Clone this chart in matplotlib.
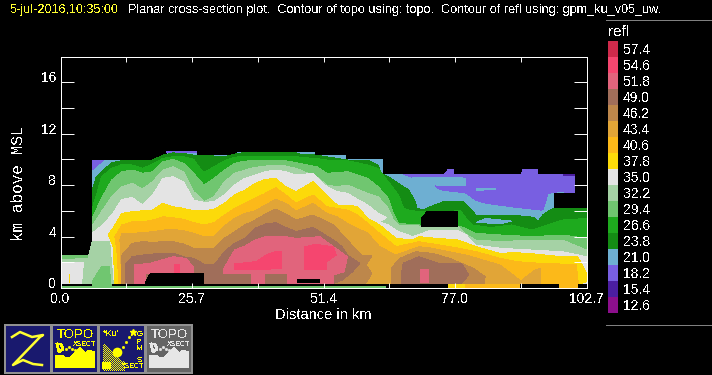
import numpy as np
import matplotlib
matplotlib.use("Agg")
import matplotlib.pyplot as plt
from matplotlib.colors import ListedColormap

plt.rcParams['text.antialiased'] = False
plt.rcParams['lines.antialiased'] = False
plt.rcParams['font.family'] = ['Liberation Sans', 'DejaVu Sans']

# escala de color
refl_levels = [57.4, 54.6, 51.8, 49.0, 46.2, 43.4, 40.6, 37.8, 35.0, 32.2,
               29.4, 26.6, 23.8, 21.0, 18.2, 15.4, 12.6]
refl_colors = ['#cf2a4b', '#f5466f', '#e1647c', '#a06e5a', '#bd874b', '#e1a537',
               '#fcb919', '#fcda0a', '#e4e4e4', '#a5d2a5', '#70c670', '#1eaa1e',
               '#148c14', '#6eafd2', '#785fe1', '#4b1ea0', '#8c0f8c']
c = dict(zip(refl_levels, refl_colors))

xtick_vals = [0, 12.85, 25.7, 38.55, 51.4, 64.2, 77.0, 89.85, 102.7]
xtick_labels = ['0.0', '', '25.7', '', '51.4', '', '77.0', '', '102.7']
ytick_vals = [0, 2, 4, 6, 8, 10, 12, 14, 16]
ytick_labels = ['0', '', '4', '', '8', '', '12', '', '16']

# contornos: distancia (km), altura (km)
x_210 = [6.2, 6.2, 20.7, 20.7, 26.7, 26.7, 34.5, 34.5, 49.6, 49.6, 55.8, 55.8, 63, 63,
         100.4, 100.4, 96.3, 96.3, 102.7, 102.7]
h_210 = [.36, 9.95, 9.95, 10.65, 10.65, 10.35, 10.35, 10.6, 10.6, 10.35, 10.35, 10, 10, 8.86,
         8.86, 7.4, 7.4, 6.2, 6.2, .36]

x_182 = [66.9, 75, 75.7, 76.7, 76.7, 90, 90.3, 93.2, 93.2, 100.4, 100.4, 97.3, 95.2, 94.2,
         93.9, 88.4, 83.2, 81.2, 79.1, 74.7, 73.4, 72.7, 68.8]
h_182 = [8.86, 8.86, 9.2, 9.2, 8.86, 8.86, 9.2, 9.2, 8.86, 8.86, 7.4, 7.5, 7.35, 6.1,
         6.06, 6.3, 6.58, 6.8, 7.4, 7.6, 7.8, 8.4, 8.6]
x_182b = [6.2, 8.4, 6.2]
h_182b = [9.95, 9.95, 9.2]
x_182c = [20.6, 26.7, 26.7, 20.6]
h_182c = [10.65, 10.65, 10.5, 10.5]
x_154 = [98.1, 100.4, 100.4, 98.1]
h_154 = [8.86, 8.86, 8.73, 8.73]

x_210b = [68.8, 79.1, 79.1, 73.5]
h_210b = [8.6, 8.55, 8.0, 8.0]
x_210c = [81.2, 85, 85, 81.2]
h_210c = [7.6, 7.65, 7.75, 7.7]

x_238 = [6.2, 7, 8, 10, 12, 16, 18, 20, 22, 24, 26, 28, 30, 32, 34, 36, 46, 46.7, 50, 54, 56, 60,
         62, 62.6, 64, 66, 68, 69.3, 69.6, 70.8, 71.4, 74.7, 78.6, 80.6, 81.2, 85.8, 89.7, 92.3,
         93.3, 94.2, 96.2, 102.7, 102.7, 6.2]
h_238 = [7.6, 8.65, 9.04, 9.74, 9.89, 9.89, 9.95, 10.33, 10.5, 10.46, 10.33, 10.33, 10.26, 10.2,
         10.41, 10.54, 10.5, 10.41, 10.33, 10.07, 9.95, 9.95, 9.56, 8.91, 8.65, 8.13, 7.61, 6.7,
         6.2, 6.06, 6.19, 6.7, 6.7, 5.93, 5.6, 5.6, 5.6, 5.5, 5.2, 5.7, 6.2, 6.2, .36, .36]
x_210d = [81.2, 83, 88, 86]
h_210d = [5.1, 5.4, 5.2, 5.0]

x_266 = [6.2, 7, 8, 10, 12, 14, 16, 18, 20, 22, 24, 26, 27, 28, 30, 32, 34, 36, 46, 46.7, 50, 52,
         56, 60, 62, 64, 66, 67, 68, 70, 76, 78, 79.2, 80.5, 84, 88, 92, 98, 102.7, 102.7, 6.2]
h_266 = [6.19, 7.2, 8.65, 9.3, 9.6, 9.56, 9.3, 9.63, 10.08, 10.2, 10.2, 10.0, 9.43, 8.99, 9.43,
         9.89, 10.15, 10.26, 10.26, 10.15, 10.07, 9.95, 9.9, 9.56, 9.3, 8.26, 7.23, 6.19, 6.06,
         5.93, 5.93, 6.06, 5.41, 4.9, 4.69, 4.9, 4.5, 5.28, 5.41, .36, .36]

x_294 = [6.2, 8, 10, 12, 14, 16, 18, 20, 22, 24, 26, 28, 30, 32, 34, 36, 38, 40, 44, 46, 50, 52,
         56, 60, 62, 64, 65, 66, 70, 77.6, 79, 81, 86, 92, 98, 102.7, 102.7, 6.2]
h_294 = [5.41, 6.97, 8.39, 9.04, 9.17, 8.91, 9.04, 9.82, 10.0, 9.69, 8.91, 8.0, 8.52, 9.17, 9.69,
         9.87, 9.89, 9.95, 9.89, 9.74, 9.43, 8.91, 9.04, 8.52, 7.87, 6.97, 5.8, 5.02, 4.9, 4.82,
         4.64, 4.25, 4.12, 3.99, 4.12, 3.86, .36, .36]

x_322 = [6.2, 8, 10, 12, 14, 16, 18, 20, 22, 24, 26, 28, 30, 32, 34, 36, 38, 40, 42, 44, 46, 50,
         52, 54, 56, 60, 62, 64, 65, 66, 70, 77.6, 79.2, 81, 86, 92, 98, 102.7, 102.7, 6.2]
h_322 = [4.82, 5.93, 7.1, 7.87, 8.13, 7.69, 8.26, 9.17, 9.43, 9.04, 7.49, 6.71, 7.1, 8.26, 8.91,
         9.17, 9.38, 9.48, 9.56, 9.48, 9.3, 8.65, 8.0, 7.87, 8.0, 7.36, 7.1, 6.19, 5.28, 4.9,
         4.82, 4.82, 4.17, 3.73, 3.6, 3.73, 3.73, 2.95, .36, .36]

x_350 = [6.2, 8, 10, 12, 14, 16, 18, 20, 22, 24, 26, 28, 30, 32, 34, 36, 38, 40, 42, 44, 46, 49.3,
         52, 54, 56, 58, 60, 62, 63.7, 62.3, 64, 66, 68.8, 72, 77.6, 79.2, 81, 86, 92, 98, 102.7,
         102.7, 6.2]
h_350 = [4.25, 4.82, 5.67, 6.89, 7.04, 6.45, 7.23, 8.52, 8.65, 8.26, 6.84, 6.66, 6.71, 7.23, 8.0,
         8.52, 8.78, 9.04, 9.17, 9.04, 8.78, 8.91, 7.87, 7.49, 7.36, 6.89, 6.45, 5.8, 5.49, 5.15,
         4.9, 4.38, 3.99, 4.45, 4.45, 4.12, 3.34, 3.08, 2.95, 2.82, 2.43, .36, .36]

# eco bajo a la izquierda
x_294b = [0, 0, 5.4, 6.2, 6.2]
h_294b = [.36, 2.56, 2.56, 2.8, .36]
x_322b = [0, 0, 5.4, 6.2, 9.6, 10.3]
h_322b = [.36, 2.2, 2.3, 3.6, 3.6, .36]
x_350b = [0, 0, 4.5, 4.1]
h_350b = [.36, 2.0, 2.0, .36]
x_294c = [6.2, 6.2, 8, 9.5, 9.9]
h_294c = [.1, .5, 1.66, 1.66, .1]
x_378b = [1.7, 1.95, 1.95, 1.7]
h_378b = [.36, .36, 1.1, 1.1]

x_378 = [9.3, 10, 12, 14, 16, 18, 20, 22, 24, 26, 28, 30, 32, 34, 36, 38, 40, 42, 44, 46, 49.3,
         52, 54, 56, 58, 60, 62.3, 65.5, 68.8, 70, 72, 77.6, 81.2, 85.8, 88.8, 92.7, 97.8, 101,
         102.7, 102.7, 101.6, 10.6, 10.3]
h_378 = [4.17, 4.5, 5.8, 5.93, 6.0, 6.06, 6.58, 6.32, 6.19, 6.0, 6.0, 6.11, 6.58, 7.23, 7.61,
         8.13, 8.44, 8.52, 7.87, 7.49, 8.26, 7.23, 6.45, 6.45, 6.32, 5.41, 4.9, 3.86, 3.73, 3.99,
         3.91, 3.73, 3.21, 2.69, 2.75, 2.64, 2.43, 2.43, 1.14, .5, .36, .36, 3.2]
x_378c = [75.7, 79, 79, 75.7]
h_378c = [0, 0, .4, .4]

x_406 = [10.6, 12, 14, 16, 18, 20, 22, 24, 26, 28, 30, 32, 34, 36, 38, 40, 42, 44, 46, 49.3, 52,
         54, 56, 58, 60, 62.3, 65.5, 70, 72, 78, 81.2, 85.8, 89, 93.6, 97.8, 100.7, 101.1, 11.4, 11]
h_406 = [3.99, 4.9, 5.15, 5.15, 5.28, 5.54, 5.46, 5.34, 5.08, 4.9, 5.08, 5.67, 6.19, 6.58, 6.97,
         7.36, 7.8, 7.23, 6.58, 7.23, 6.32, 6.19, 6.06, 5.67, 5.02, 4.25, 3.21, 3.6, 3.47, 3.08,
         2.82, 2.31, 2.05, 1.92, 1.86, 1.86, .36, .36, 3.0]
x_406b = [79, 89.7, 89.7, 79]
h_406b = [0, 0, .4, .4]
x_406c = [97.3, 101.1, 101.1, 97.3]
h_406c = [0, 0, .4, .4]

x_434 = [11.6, 12, 14, 16, 18, 20, 22, 24, 26, 28, 30, 32, 34, 36, 38, 40, 42, 44, 46, 49.3, 50.6,
         52, 54, 56, 58, 60, 62.3, 65.5, 70, 72, 79.2, 85.8, 88.4, 90, 90.5, 92.7, 93.7, 93.7, 12]
h_434 = [3.73, 4.2, 4.25, 4.3, 4.38, 4.5, 4.56, 4.45, 4.25, 3.99, 3.99, 4.82, 5.41, 5.8, 6.0, 6.45,
         6.89, 6.58, 5.98, 6.58, 6.19, 5.8, 5.54, 5.02, 4.64, 4.25, 3.21, 2.56, 3.21, 3.13, 2.56,
         1.79, 1.01, .49, .75, 1.4, 1.53, .36, .36]

x_462 = [12, 14, 16, 18, 20, 22, 24, 26, 28, 30, 32, 34, 36, 38, 40, 42, 44, 46, 49.3, 53.3, 56,
         58.7, 60.8, 59.6, 60.8, 59.6, 12]
h_462 = [2.56, 3.47, 3.6, 3.55, 3.6, 3.6, 3.42, 3.08, 3.08, 3.08, 3.86, 4.38, 4.9, 5.28, 5.75,
         6.14, 5.75, 5.28, 5.67, 4.9, 3.73, 2.56, 2.5, 1.8, 1.14, .36, .36]
x_462b = [64.6, 64.6, 66.2, 69.4, 72.7, 76, 80.6, 82.9, 82.7]
h_462b = [.36, 1.53, 2.3, 2.82, 2.69, 2.3, 1.53, .88, .36]

x_490 = [12.6, 14, 16, 18, 20, 22, 24, 26, 28, 30, 32, 34, 36, 38, 40, 42, 44, 46, 49.3, 53.3, 55,
         56, 58.4, 57, 55, 53.3, 12.6]
h_490 = [1.79, 2.43, 2.56, 2.64, 2.69, 2.69, 2.43, 2.3, 1.86, 1.79, 2.82, 3.47, 3.86, 4.64, 4.97,
         5.08, 4.71, 4.38, 4.71, 3.73, 3.21, 2.56, 1.92, 1.27, .62, .36, .36]
x_490b = [66.6, 66.6, 66.9, 70, 73.7, 78.3, 79.7, 78.3]
h_490b = [.36, 1.14, 1.92, 2.43, 1.92, 1.92, 1.01, .36]

x_518 = [14.5, 14.5, 17.5, 22, 24.5, 25.9, 25.9, 16.5, 16.5]
h_518 = [.36, 1.79, 1.92, 2.43, 2.3, 1.66, 1.1, 1.1, .36]
x_518b = [31.9, 34, 36, 38, 40, 42, 44, 46, 50.6, 53.3, 56, 55.4, 53.3, 53.3, 44.3, 44.3, 39.8, 39.8,
          37.3, 37.3, 31.9]
h_518b = [1.53, 2.95, 3.26, 3.73, 3.99, 4.04, 3.99, 3.86, 3.99, 3.21, 2.43, 1.27, 1.01, .36, .36,
          1.1, 1.1, .36, .36, 1.1, 1.1]
x_518c = [70.1, 72, 72, 70.1]
h_518c = [.36, .36, 1.5, 1.5]

x_546 = [22.2, 23.4, 23.4, 22.2]
h_546 = [1.1, 1.1, 1.86, 1.86]
x_546b = [33.9, 33.9, 38.2, 40.1, 42.1, 43.2, 43.2]
h_546b = [1.4, 1.86, 2.05, 2.56, 2.85, 2.82, 1.5]
x_546c = [47.7, 47.7, 49.9, 53.3, 53.8, 52, 52]
h_546c = [1.4, 3.2, 3.4, 3.2, 2.56, 2.05, 1.4]

# zonas sin dato
x_gap = [70.5, 71.5, 77.6, 77.6, 70.5]
h_gap = [5.4, 5.93, 5.93, 4.82, 4.82]
x_gap2 = [16.5, 17.5, 27.9, 27.9]
h_gap2 = [.36, 1.1, 1.1, .36]
x_gap3 = [46.1, 50.6, 50.6, 46.1]
h_gap3 = [.36, .36, .7, .7]

# topografia
topo_x = [0, 63.6, 63.6, 0]
topo_h = [0, 0, .18, .18]

capas = [
    (x_210, h_210, 21.0), (x_182, h_182, 18.2), (x_182b, h_182b, 18.2), (x_182c, h_182c, 18.2),
    (x_154, h_154, 15.4), (x_210b, h_210b, 21.0), (x_210c, h_210c, 21.0),
    (x_238, h_238, 23.8), (x_210d, h_210d, 21.0), (x_266, h_266, 26.6), (x_294, h_294, 29.4),
    (x_322, h_322, 32.2), (x_350, h_350, 35.0), (x_294b, h_294b, 29.4), (x_322b, h_322b, 32.2),
    (x_350b, h_350b, 35.0), (x_294c, h_294c, 29.4), (x_378b, h_378b, 37.8),
    (x_378, h_378, 37.8), (x_378c, h_378c, 37.8), (x_406, h_406, 40.6), (x_406b, h_406b, 40.6),
    (x_406c, h_406c, 40.6), (x_434, h_434, 43.4), (x_462, h_462, 46.2), (x_462b, h_462b, 46.2),
    (x_490, h_490, 49.0), (x_490b, h_490b, 49.0), (x_518, h_518, 51.8), (x_518b, h_518b, 51.8),
    (x_518c, h_518c, 51.8), (x_546, h_546, 54.6), (x_546b, h_546b, 54.6), (x_546c, h_546c, 54.6),
    (topo_x, topo_h, 29.4),
]

fig = plt.figure(figsize=(7.12, 3.75), dpi=100, facecolor='black')
W, H = 712.0, 375.0

ax = fig.add_axes([60.5 / W, 1 - 288.0 / H, 526 / W, 231.5 / H], facecolor='black')
for xs, hs, nivel in capas:
    ax.fill(xs, hs, facecolor=c[nivel], edgecolor='none', linewidth=0, antialiased=False)
for xs, hs in [(x_gap, h_gap), (x_gap2, h_gap2), (x_gap3, h_gap3)]:
    ax.fill(xs, hs, facecolor='black', edgecolor='none', linewidth=0, antialiased=False)

ax.set_xlim(0, 102.7)
ax.set_ylim(0, 18)
for s in ax.spines.values():
    s.set_color('white')
    s.set_linewidth(0.7)
    s.set_antialiased(False)
ax.set_xticks(xtick_vals, xtick_labels)
ax.set_yticks(ytick_vals, ytick_labels)
ax.tick_params(axis='x', direction='in', length=3.8, width=0.7, color='white', labelcolor='white',
               top=True, labelsize=10, pad=3)
ax.tick_params(axis='y', direction='in', length=9.5, width=0.7, color='white', labelcolor='white',
               right=True, labelsize=10, pad=3)
for t in ax.get_yticklabels():
    t.set_verticalalignment('baseline')
ax.set_xlabel('Distance in km', color='white', fontsize=10.5, labelpad=1)
fig.text(19 / W, 1 - 183 / H, 'km above MSL', color='white', rotation=90, ha='center', va='center',
         family='Liberation Mono', fontsize=11.5)

# barra de color
cax = fig.add_axes([608 / W, 1 - 313.0 / H, 10 / W, 272 / H])
cax.pcolormesh(np.arange(len(refl_levels))[::-1].reshape(-1, 1), cmap=ListedColormap(refl_colors),
               vmin=-0.5, vmax=len(refl_levels) - 0.5)
cax.axis('off')
for i, v in enumerate(refl_levels):
    fig.text(623 / W, 1 - (50 + 16 * i) / H, '%.1f' % v, color='white', fontsize=10, va='center')
fig.text(608 / W, 1 - 32 / H, 'refl', color='white', fontsize=11, va='center')

# titulo
fig.text(10 / W, 1 - 9.5 / H, '5-jul-2016,10:35:00', color='#ffff30', fontsize=9.1, va='center')
fig.text(128 / W, 1 - 9.5 / H, 'Planar cross-section plot.  Contour of topo using: topo.  Contour of refl using: gpm_ku_v05_uw.',
         color='white', fontsize=9.1, va='center')

# iconos y lineas sueltas, en pixeles
iax = fig.add_axes([0, 0, 1, 1], facecolor='none')
iax.set_xlim(0, W)
iax.set_ylim(H, 0)
iax.axis('off')
iax.patch.set_alpha(0)
iax.plot([606, 712], [19.5, 19.5], color='#808080', lw=0.7)
iax.plot([606, 712], [324.5, 324.5], color='#808080', lw=0.7)


def caja(x0, fondo):
    iax.fill([x0, x0 + 46, x0 + 46, x0], [325, 325, 373, 373], facecolor=fondo, edgecolor='#909090',
             linewidth=1.4, antialiased=False)


def topo_icono(x0, color):
    px = [3, 11, 13, 18, 28, 33, 36, 43, 43, 3]
    py = [355, 355, 358, 357, 347, 353, 350, 352, 368, 368]
    iax.fill([x0 + p for p in px], py, facecolor=color, edgecolor='none', linewidth=0, antialiased=False)
    iax.text(x0 + 23, 334.5, 'TOPO', color=color, fontsize=9.5, ha='center', va='center')
    iax.text(x0 + 32.5, 345, 'XSECT', color=color, fontsize=5, ha='center', va='center', weight='bold')
    iax.plot([x0 + 5, x0 + 9, x0 + 11, x0 + 7, x0 + 5], [344, 344, 349, 352, 344], color=color, lw=1.2)
    iax.plot([x0 + 14, x0 + 17, x0 + 20, x0 + 23], [349, 347, 349, 350], color=color, ls='none',
             marker='s', ms=1.0)


caja(5, '#19196e')
iax.plot([12, 20, 32, 43, 40, 13, 23, 33, 42], [337, 332, 337, 335, 337, 365, 360, 364, 365],
         color='#ffff30', lw=1.8, antialiased=True)
caja(52, '#19196e')
topo_icono(52, '#ffff00')
caja(99, '#19196e')
iax.text(111, 334, "*Ku'", color='#ffff00', fontsize=6.5, ha='center', va='center')
# trama del relieve
gx, gy = np.mgrid[102:124, 343:370]
trama = ((gx + gy) % 2 == 0) & (gy >= 342 + (gx - 102) * 0.9)
iax.plot(gx[trama] + 0.5, gy[trama] + 0.5, color='#ffff00', ls='none', marker='s', ms=0.7, mew=0)
iax.plot([117], [352], color='#ffff00', ls='none', marker='o', ms=7, mew=0)
iax.fill([102, 111, 111, 102], [362, 362, 369, 369], facecolor='#ffff00', edgecolor='none', antialiased=False)
iax.plot([120, 123, 126, 129, 132], [352, 347, 342, 337, 332], color='#ffff00', ls='none', marker='s', ms=1)
iax.plot([133], [332], color='#ffff00', ls='none', marker='*', ms=5)
for ly, letra in zip([335, 342, 349, 360], 'GPMS'):
    iax.text(139.5, ly, letra, color='#ffff00', fontsize=6, ha='center', va='center')
iax.text(132.5, 367, 'XSECT', color='#ffff00', fontsize=5, ha='center', va='center', weight='bold')
caja(146, '#646464')
topo_icono(146, '#e6e6e6')

fig.savefig('out.png', dpi=100, facecolor='black')
